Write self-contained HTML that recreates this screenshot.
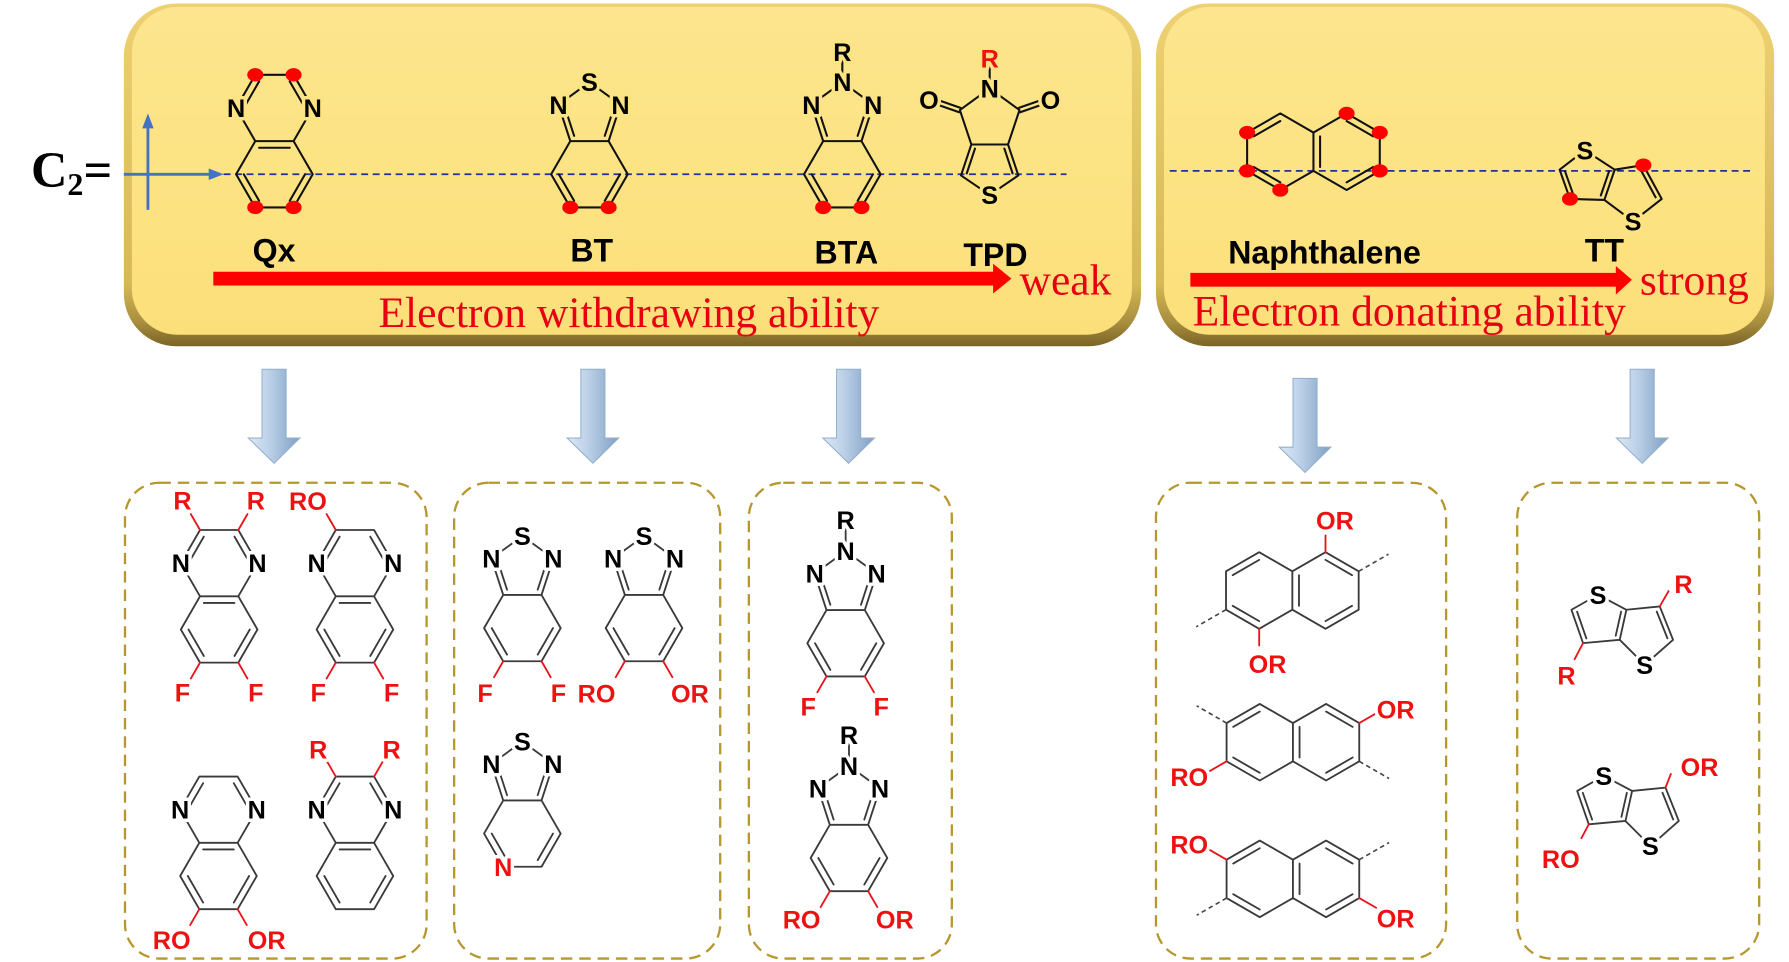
<!DOCTYPE html>
<html><head><meta charset="utf-8"><style>
html,body{margin:0;padding:0;background:#fff;overflow:hidden}
svg{display:block}
.b{fill:none;stroke:#111;stroke-width:1.8;stroke-linecap:round;stroke-linejoin:round}
.g{fill:none;stroke:#3a3a3a;stroke-width:1.6;stroke-linecap:round;stroke-linejoin:round}
.rb{fill:none;stroke:#E8141C;stroke-width:1.6;stroke-linecap:round}
.db{fill:none;stroke:#444;stroke-width:1.4;stroke-dasharray:4 3}
text.a{font-family:"Liberation Sans",Arial,sans-serif;font-weight:bold;font-size:22px;text-anchor:middle;paint-order:stroke;stroke-linejoin:round;stroke-width:6px}
text.a.s{text-anchor:start}
text.a.e{text-anchor:end}
.w{stroke:#fff}
.y{stroke:#FCE383}
.k{fill:#000}
.r{fill:#EE1111}
.lb{font-family:"Liberation Sans",Arial,sans-serif;font-weight:bold;font-size:28px;text-anchor:middle;fill:#000}
.big{font-family:"Liberation Serif","Times New Roman",serif;font-size:38px;fill:#E60012}
.dot{fill:#FF0000}
.box{fill:none;stroke:#B8962E;stroke-width:2;stroke-dasharray:10 6}
.ba{fill:url(#blu);stroke:#93AECB;stroke-width:0.9}
</style></head><body>
<svg width="1789" height="962" viewBox="0 0 1560 839" preserveAspectRatio="none" xmlns="http://www.w3.org/2000/svg">
<defs>
<linearGradient id="edge" x1="0" y1="0" x2="0" y2="1">
<stop offset="0" stop-color="#EED172"/><stop offset="0.82" stop-color="#D6B856"/><stop offset="0.93" stop-color="#A88E3E"/><stop offset="1" stop-color="#7A6427"/>
</linearGradient>
<linearGradient id="yel" x1="0" y1="0" x2="0" y2="1">
<stop offset="0" stop-color="#FCE58E"/><stop offset="0.5" stop-color="#FCE383"/><stop offset="1" stop-color="#FBDF7A"/>
</linearGradient>
<linearGradient id="blu" x1="0" y1="0" x2="1" y2="0">
<stop offset="0" stop-color="#DDE8F5"/><stop offset="0.4" stop-color="#BCD1E8"/><stop offset="1" stop-color="#7F9FC4"/>
</linearGradient>
</defs>

<!-- C2= -->
<text x="27" y="163" font-family="Liberation Serif,serif" font-weight="bold" font-size="44" fill="#000">C<tspan font-size="28" dy="7">2</tspan><tspan dy="-7">=</tspan></text>

<!-- yellow boxes -->
<rect x="108" y="3" width="887" height="299" rx="46" fill="url(#edge)"/>
<rect x="115" y="6" width="872" height="286" rx="40" fill="url(#yel)"/>
<rect x="1008" y="3" width="539" height="299" rx="46" fill="url(#edge)"/>
<rect x="1015" y="6" width="524" height="286" rx="40" fill="url(#yel)"/>

<!-- dashed symmetry lines -->
<line x1="195" y1="152" x2="930" y2="152" stroke="#22309E" stroke-width="1.5" stroke-dasharray="6 4"/>
<line x1="1020" y1="149" x2="1528" y2="149" stroke="#22309E" stroke-width="1.5" stroke-dasharray="6 4"/>

<!-- axis -->
<line x1="129" y1="183" x2="129" y2="108" stroke="#4472C4" stroke-width="2.5"/>
<polygon points="129,99 124,112 134,112" fill="#4472C4"/>
<line x1="108" y1="152" x2="185" y2="152" stroke="#4472C4" stroke-width="2.5"/>
<polygon points="195,152 182,147 182,157" fill="#4472C4"/>

<!-- top Qx -->
<g transform="translate(239.3,152)">
<path class="b" d="M33.4,0L16.7,28.92L-16.7,28.92L-33.4,0L-16.7,-28.92L16.7,-28.92ZM-16.7,-28.92L-33.4,-57.84L-16.7,-86.76L16.7,-86.76L33.4,-57.84L16.7,-28.92M-13.36,-23.14L13.36,-23.14M-26.72,0L-13.36,23.14M26.72,0L13.36,23.14M-26.72,-57.84L-13.36,-80.98M26.72,-57.84L13.36,-80.98"/>
<text class="a y k" x="-33.4" y="-50">N</text><text class="a y k" x="33.4" y="-50">N</text>
<ellipse class="dot" cx="-16.7" cy="-86.76" rx="7" ry="5.8"/><ellipse class="dot" cx="16.7" cy="-86.76" rx="7" ry="5.8"/>
<ellipse class="dot" cx="-16.7" cy="28.92" rx="7" ry="5.8"/><ellipse class="dot" cx="16.7" cy="28.92" rx="7" ry="5.8"/>
</g>
<text class="lb" x="239" y="228">Qx</text>

<!-- top BT -->
<g transform="translate(514,152)">
<path class="b" d="M33.4,0L16.7,28.92L-16.7,28.92L-33.4,0L-16.7,-28.92L16.7,-28.92ZM-16.7,-28.92L-27.02,-60.68L0,-80.32L27.02,-60.68L16.7,-28.92M-26.72,0L-13.36,23.14M26.72,0L13.36,23.14M-21.62,-58.92L-13.36,-33.52M21.62,-58.92L13.36,-33.52"/>
<text class="a y k" x="-27.02" y="-52.8">N</text><text class="a y k" x="27.02" y="-52.8">N</text><text class="a y k" x="0" y="-72.5">S</text>
<ellipse class="dot" cx="-16.7" cy="28.92" rx="7" ry="5.8"/><ellipse class="dot" cx="16.7" cy="28.92" rx="7" ry="5.8"/>
</g>
<text class="lb" x="516" y="228">BT</text>

<!-- top BTA -->
<g transform="translate(734.5,152)">
<path class="b" d="M33.4,0L16.7,28.92L-16.7,28.92L-33.4,0L-16.7,-28.92L16.7,-28.92ZM-16.7,-28.92L-27.02,-60.68L0,-80.32L27.02,-60.68L16.7,-28.92M-26.72,0L-13.36,23.14M26.72,0L13.36,23.14M-21.62,-58.92L-13.36,-33.52M21.62,-58.92L13.36,-33.52M0,-80.32L0,-106"/>
<text class="a y k" x="-27.02" y="-52.8">N</text><text class="a y k" x="27.02" y="-52.8">N</text><text class="a y k" x="0" y="-72.5">N</text>
<text class="a y k" x="0" y="-99">R</text>
<ellipse class="dot" cx="-16.7" cy="28.92" rx="7" ry="5.8"/><ellipse class="dot" cx="16.7" cy="28.92" rx="7" ry="5.8"/>
</g>
<text class="lb" x="738" y="230">BTA</text>

<!-- top TPD -->
<path class="b" d="M863,77L837,96L847,126L879,126L889,96Z M847,126L838,153L863,170L888,153L879,126 M850.2,129.6L843,151.2 M875.8,129.6L883,151.2 M837.6,94.1L820.1,88 M836.4,97.9L818.9,91.8 M889.6,97.9L907.1,91.8 M888.4,94.1L905.9,88 M863,77L863,51"/>
<text class="a y k" x="810" y="95">O</text><text class="a y k" x="916" y="95">O</text>
<text class="a y k" x="863" y="85">N</text><text class="a y r" x="863" y="59">R</text>
<text class="a y k" x="863" y="178">S</text>
<text class="lb" x="868" y="232">TPD</text>

<!-- red arrow left -->
<rect x="186" y="237" width="683" height="12" fill="#FF0000"/>
<polygon points="866,230 882,243 866,256" fill="#FF0000"/>
<text class="big" x="889" y="257" font-size="40">weak</text>
<text class="big" x="330" y="285">Electron withdrawing ability</text>

<!-- top naphthalene -->
<g transform="translate(1116.4,132.3)">
<path class="b" d="M28.92,-16.7L0,-33.4L-28.92,-16.7L-28.92,16.7L0,33.4L28.92,16.7ZM28.92,-16.7L57.84,-33.4L86.76,-16.7L86.76,16.7L57.84,33.4L28.92,16.7M-23.14,-13.36L0,-26.72M-23.14,13.36L0,26.72M34.7,-13.36L34.7,13.36M57.84,-26.72L80.98,-13.36M80.98,13.36L57.84,26.72"/>
<ellipse class="dot" cx="-28.92" cy="-16.7" rx="7" ry="5.8"/><ellipse class="dot" cx="-28.92" cy="16.7" rx="7" ry="5.8"/><ellipse class="dot" cx="0" cy="33.4" rx="7" ry="5.8"/>
<ellipse class="dot" cx="57.84" cy="-33.4" rx="7" ry="5.8"/><ellipse class="dot" cx="86.76" cy="-16.7" rx="7" ry="5.8"/><ellipse class="dot" cx="86.76" cy="16.7" rx="7" ry="5.8"/>
</g>
<text class="lb" x="1155" y="230">Naphthalene</text>

<!-- top TT -->
<path class="b" d="M1382,131L1360,148L1369,173.5L1399,174.4L1408,148ZM1408,148L1433,144L1449,173.5L1424,193L1399,174.4M1364.7,149.4L1371.9,169.8M1395.9,170.5L1403.1,149.4M1430.9,148.5L1443.7,172.1"/>
<text class="a y k" x="1382" y="139">S</text><text class="a y k" x="1424" y="201">S</text>
<ellipse class="dot" cx="1433" cy="144" rx="7" ry="5.8"/><ellipse class="dot" cx="1369" cy="173.5" rx="7" ry="5.8"/>
<text class="lb" x="1399" y="228">TT</text>

<!-- red arrow right -->
<rect x="1038" y="238" width="373" height="12" fill="#FF0000"/>
<polygon points="1409,232 1423,244 1409,257" fill="#FF0000"/>
<text class="big" x="1430" y="257" font-size="41">strong</text>
<text class="big" x="1040" y="284">Electron donating ability</text>

<!-- blue arrows -->
<path class="ba" d="M228.5,322H249.5V382H261.5L239,404L216.5,382H228.5Z"/>
<path class="ba" d="M506.5,322H527.5V382H539.5L517,404L494.5,382H506.5Z"/>
<path class="ba" d="M729.5,322H750.5V382H762.5L740,404L717.5,382H729.5Z"/>
<path class="ba" d="M1127.5,330H1148.5V390H1160.5L1138,412L1115.5,390H1127.5Z"/>
<path class="ba" d="M1421.5,322H1442.5V382H1454.5L1432,404L1409.5,382H1421.5Z"/>

<!-- dashed boxes -->
<rect class="box" x="109" y="421" width="263" height="415" rx="30"/>
<rect class="box" x="396" y="421" width="232" height="415" rx="30"/>
<rect class="box" x="653" y="421" width="177" height="415" rx="30"/>
<rect class="box" x="1008" y="421" width="253" height="415" rx="30"/>
<rect class="box" x="1323" y="421" width="211" height="415" rx="30"/>

<!-- Box1 Qx derivatives -->
<g transform="translate(191.1,549)">
<path class="g" d="M33.4,0L16.7,28.92L-16.7,28.92L-33.4,0L-16.7,-28.92L16.7,-28.92ZM-16.7,-28.92L-33.4,-57.84L-16.7,-86.76L16.7,-86.76L33.4,-57.84L16.7,-28.92M-13.36,-23.14L13.36,-23.14M-26.72,0L-13.36,23.14M26.72,0L13.36,23.14M-26.72,-57.84L-13.36,-80.98M26.72,-57.84L13.36,-80.98"/>
<path class="rb" d="M-16.7,-86.76L-24.7,-100.6M16.7,-86.76L24.7,-100.6M-16.7,28.92L-24.7,42.8M16.7,28.92L24.7,42.8"/>
<text class="a w k" x="-33.4" y="-50">N</text><text class="a w k" x="33.4" y="-50">N</text>
<text class="a w r" x="-32" y="-104.5">R</text><text class="a w r" x="32" y="-104.5">R</text>
<text class="a w r" x="-32" y="63">F</text><text class="a w r" x="32" y="63">F</text>
</g>
<g transform="translate(309.5,549)">
<path class="g" d="M33.4,0L16.7,28.92L-16.7,28.92L-33.4,0L-16.7,-28.92L16.7,-28.92ZM-16.7,-28.92L-33.4,-57.84L-16.7,-86.76L16.7,-86.76L33.4,-57.84L16.7,-28.92M-13.36,-23.14L13.36,-23.14M-26.72,0L-13.36,23.14M26.72,0L13.36,23.14M-26.72,-57.84L-13.36,-80.98M26.72,-57.84L13.36,-80.98"/>
<path class="rb" d="M-16.7,-86.76L-24.7,-100.6M-16.7,28.92L-24.7,42.8M16.7,28.92L24.7,42.8"/>
<text class="a w k" x="-33.4" y="-50">N</text><text class="a w k" x="33.4" y="-50">N</text>
<text class="a w r" x="-41" y="-104">RO</text>
<text class="a w r" x="-32" y="63">F</text><text class="a w r" x="32" y="63">F</text>
</g>
<g transform="translate(190.5,764)">
<path class="g" d="M33.4,0L16.7,28.92L-16.7,28.92L-33.4,0L-16.7,-28.92L16.7,-28.92ZM-16.7,-28.92L-33.4,-57.84L-16.7,-86.76L16.7,-86.76L33.4,-57.84L16.7,-28.92M-13.36,-23.14L13.36,-23.14M-26.72,0L-13.36,23.14M26.72,0L13.36,23.14M-26.72,-57.84L-13.36,-80.98M26.72,-57.84L13.36,-80.98"/>
<path class="rb" d="M-16.7,28.92L-24.7,42.8M16.7,28.92L24.7,42.8"/>
<text class="a w k" x="-33.4" y="-50">N</text><text class="a w k" x="33.4" y="-50">N</text>
<text class="a w r" x="-40.8" y="63.5">RO</text><text class="a w r" x="42" y="63.5">OR</text>
</g>
<g transform="translate(309.5,764)">
<path class="g" d="M33.4,0L16.7,28.92L-16.7,28.92L-33.4,0L-16.7,-28.92L16.7,-28.92ZM-16.7,-28.92L-33.4,-57.84L-16.7,-86.76L16.7,-86.76L33.4,-57.84L16.7,-28.92M-13.36,-23.14L13.36,-23.14M-26.72,0L-13.36,23.14M26.72,0L13.36,23.14M-26.72,-57.84L-13.36,-80.98M26.72,-57.84L13.36,-80.98"/>
<path class="rb" d="M-16.7,-86.76L-24.7,-100.6M16.7,-86.76L24.7,-100.6"/>
<text class="a w k" x="-33.4" y="-50">N</text><text class="a w k" x="33.4" y="-50">N</text>
<text class="a w r" x="-32" y="-102.5">R</text><text class="a w r" x="32" y="-102.5">R</text>
</g>

<!-- Box2 BT derivatives -->
<g transform="translate(455.5,547.8)">
<path class="g" d="M33.4,0L16.7,28.92L-16.7,28.92L-33.4,0L-16.7,-28.92L16.7,-28.92ZM-16.7,-28.92L-27.02,-60.68L0,-80.32L27.02,-60.68L16.7,-28.92M-26.72,0L-13.36,23.14M26.72,0L13.36,23.14M-21.62,-58.92L-13.36,-33.52M21.62,-58.92L13.36,-33.52"/>
<path class="rb" d="M-16.7,28.92L-24.7,42.8M16.7,28.92L24.7,42.8"/>
<text class="a w k" x="-27.02" y="-52.8">N</text><text class="a w k" x="27.02" y="-52.8">N</text><text class="a w k" x="0" y="-72.5">S</text>
<text class="a w r" x="-32.5" y="64.5">F</text><text class="a w r" x="31.5" y="64.5">F</text>
</g>
<g transform="translate(561.6,547.8)">
<path class="g" d="M33.4,0L16.7,28.92L-16.7,28.92L-33.4,0L-16.7,-28.92L16.7,-28.92ZM-16.7,-28.92L-27.02,-60.68L0,-80.32L27.02,-60.68L16.7,-28.92M-26.72,0L-13.36,23.14M26.72,0L13.36,23.14M-21.62,-58.92L-13.36,-33.52M21.62,-58.92L13.36,-33.52"/>
<path class="rb" d="M-16.7,28.92L-24.7,42.8M16.7,28.92L24.7,42.8"/>
<text class="a w k" x="-27.02" y="-52.8">N</text><text class="a w k" x="27.02" y="-52.8">N</text><text class="a w k" x="0" y="-72.5">S</text>
<text class="a w r" x="-41.4" y="64.7">RO</text><text class="a w r" x="40" y="64.7">OR</text>
</g>
<g transform="translate(455.5,727)">
<path class="g" d="M33.4,0L16.7,28.92L-16.7,28.92L-33.4,0L-16.7,-28.92L16.7,-28.92ZM-16.7,-28.92L-27.02,-60.68L0,-80.32L27.02,-60.68L16.7,-28.92M-26.72,0L-13.36,23.14M26.72,0L13.36,23.14M-21.62,-58.92L-13.36,-33.52M21.62,-58.92L13.36,-33.52"/>
<text class="a w k" x="-27.02" y="-52.8">N</text><text class="a w k" x="27.02" y="-52.8">N</text><text class="a w k" x="0" y="-72.5">S</text>
<text class="a w r" x="-16.7" y="37">N</text>
</g>

<!-- Box3 BTA derivatives -->
<g transform="translate(737.4,561)">
<path class="g" d="M33.4,0L16.7,28.92L-16.7,28.92L-33.4,0L-16.7,-28.92L16.7,-28.92ZM-16.7,-28.92L-27.02,-60.68L0,-80.32L27.02,-60.68L16.7,-28.92M-26.72,0L-13.36,23.14M26.72,0L13.36,23.14M-21.62,-58.92L-13.36,-33.52M21.62,-58.92L13.36,-33.52M0,-80.32L0,-106"/>
<path class="rb" d="M-16.7,28.92L-24.7,42.8M16.7,28.92L24.7,42.8"/>
<text class="a w k" x="-27.02" y="-52.8">N</text><text class="a w k" x="27.02" y="-52.8">N</text><text class="a w k" x="0" y="-72.5">N</text>
<text class="a w k" x="0" y="-99.5">R</text>
<text class="a w r" x="-32.7" y="63">F</text><text class="a w r" x="31" y="63">F</text>
</g>
<g transform="translate(740.3,748.3)">
<path class="g" d="M33.4,0L16.7,28.92L-16.7,28.92L-33.4,0L-16.7,-28.92L16.7,-28.92ZM-16.7,-28.92L-27.02,-60.68L0,-80.32L27.02,-60.68L16.7,-28.92M-26.72,0L-13.36,23.14M26.72,0L13.36,23.14M-21.62,-58.92L-13.36,-33.52M21.62,-58.92L13.36,-33.52M0,-80.32L0,-106"/>
<path class="rb" d="M-16.7,28.92L-24.7,42.8M16.7,28.92L24.7,42.8"/>
<text class="a w k" x="-27.02" y="-52.8">N</text><text class="a w k" x="27.02" y="-52.8">N</text><text class="a w k" x="0" y="-72.5">N</text>
<text class="a w k" x="0" y="-99.5">R</text>
<text class="a w r" x="-41.3" y="61.7">RO</text><text class="a w r" x="40" y="61.7">OR</text>
</g>

<!-- Box4 naphthalenes -->
<g transform="translate(1098,515)">
<path class="g" d="M28.92,-16.7L0,-33.4L-28.92,-16.7L-28.92,16.7L0,33.4L28.92,16.7ZM28.92,-16.7L57.84,-33.4L86.76,-16.7L86.76,16.7L57.84,33.4L28.92,16.7M-23.14,-13.36L0,-26.72M-23.14,13.36L0,26.72M34.7,-13.36L34.7,13.36M57.84,-26.72L80.98,-13.36M80.98,13.36L57.84,26.72"/>
<path class="db" d="M86.76,-16.7L112.8,-31.7M-28.92,16.7L-54.9,31.7"/>
<path class="rb" d="M57.84,-33.4L57.84,-48M0,33.4L0,48"/>
<text class="a w r" x="66" y="-53.2">OR</text><text class="a w r" x="7.3" y="71.8">OR</text>
</g>
<g transform="translate(1098.5,647.3)">
<path class="g" d="M28.92,-16.7L0,-33.4L-28.92,-16.7L-28.92,16.7L0,33.4L28.92,16.7ZM28.92,-16.7L57.84,-33.4L86.76,-16.7L86.76,16.7L57.84,33.4L28.92,16.7M-23.14,-13.36L0,-26.72M-23.14,13.36L0,26.72M34.7,-13.36L34.7,13.36M57.84,-26.72L80.98,-13.36M80.98,13.36L57.84,26.72"/>
<path class="db" d="M-28.92,-16.7L-55,-31.7M86.76,16.7L112.8,31.7"/>
<path class="rb" d="M86.76,-16.7L101.5,-25.2M-28.92,16.7L-43.6,25.2"/>
<text class="a s w r" x="102" y="-20.5">OR</text><text class="a e w r" x="-45" y="38.2">RO</text>
</g>
<g transform="translate(1098.5,766.5)">
<path class="g" d="M28.92,-16.7L0,-33.4L-28.92,-16.7L-28.92,16.7L0,33.4L28.92,16.7ZM28.92,-16.7L57.84,-33.4L86.76,-16.7L86.76,16.7L57.84,33.4L28.92,16.7M-23.14,-13.36L0,-26.72M-23.14,13.36L0,26.72M34.7,-13.36L34.7,13.36M57.84,-26.72L80.98,-13.36M80.98,13.36L57.84,26.72"/>
<path class="db" d="M-28.92,16.7L-55,31.7M86.76,-16.7L112.8,-31.7"/>
<path class="rb" d="M-28.92,-16.7L-43.6,-25.2M86.76,16.7L101.5,25.2"/>
<text class="a e w r" x="-45" y="-22">RO</text><text class="a s w r" x="102" y="42.5">OR</text>
</g>

<!-- Box5 TT derivatives -->
<g>
<path class="g" d="M1393.5,518.7L1370.3,531.8L1380.4,560.9L1412.4,558L1418.2,531.8ZM1418.2,531.8L1447.3,528.9L1458.9,558L1434.2,579.8L1412.4,558M1375.2,533.5L1383.3,556.8M1408.9,554.4L1413.6,533.5M1444.7,533.4L1454,556.7"/>
<path class="rb" d="M1447.3,528.9L1455,515.5M1380.4,560.9L1373,575"/>
<text class="a w k" x="1393.5" y="526.7">S</text><text class="a w k" x="1434.2" y="587.8">S</text>
<text class="a w r" x="1468" y="517">R</text><text class="a w r" x="1366" y="597">R</text>
</g>
<g transform="translate(5,158)">
<path class="g" d="M1393.5,518.7L1370.3,531.8L1380.4,560.9L1412.4,558L1418.2,531.8ZM1418.2,531.8L1447.3,528.9L1458.9,558L1434.2,579.8L1412.4,558M1375.2,533.5L1383.3,556.8M1408.9,554.4L1413.6,533.5M1444.7,533.4L1454,556.7"/>
<path class="rb" d="M1447.3,528.9L1452,517M1380.4,560.9L1374,573"/>
<text class="a w k" x="1393.5" y="526.7">S</text><text class="a w k" x="1434.2" y="587.8">S</text>
<text class="a w r" x="1477" y="519">OR</text><text class="a w r" x="1356" y="599">RO</text>
</g>
</svg>
</body></html>
